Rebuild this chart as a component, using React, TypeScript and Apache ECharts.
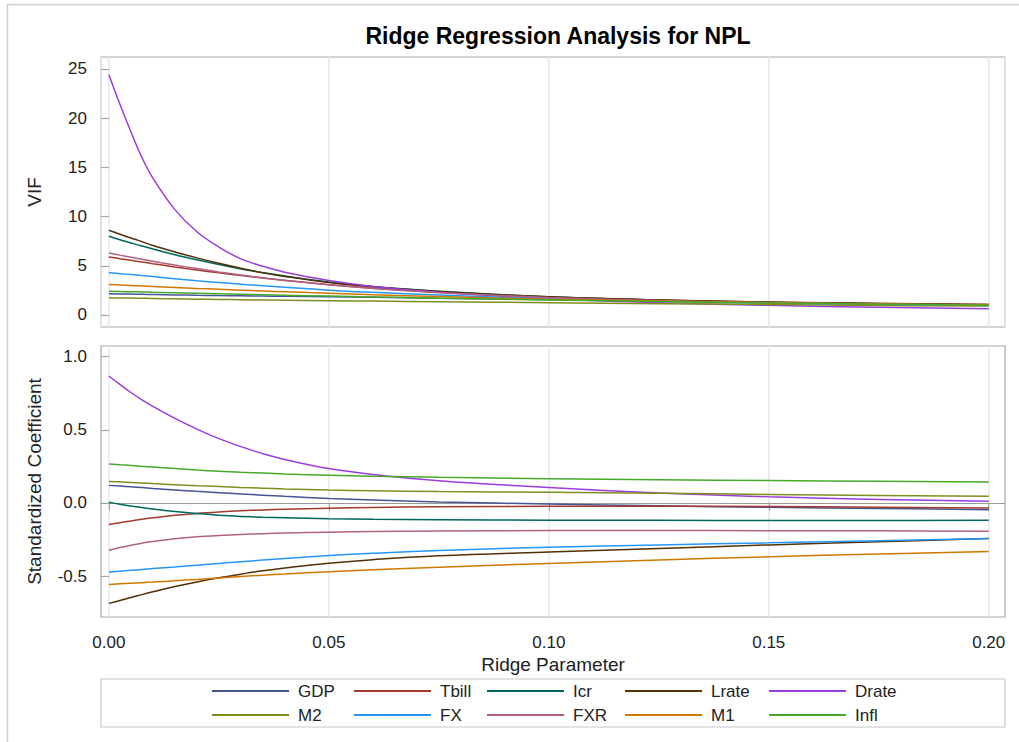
import React, { useEffect, useRef } from "react";
import * as echarts from "echarts";

const ridgeK = [0, 0.0025, 0.005, 0.0075, 0.01, 0.015, 0.02, 0.025, 0.03, 0.035, 0.04, 0.05, 0.06, 0.075, 0.1, 0.125, 0.15, 0.175, 0.2];

const variables = ["GDP", "Tbill", "Icr", "Lrate", "Drate", "M2", "FX", "FXR", "M1", "Infl"];
const colors = ["#445694", "#A23A2E", "#01665E", "#543005", "#9D3CDB", "#7F8E1F", "#2597FA", "#B26084", "#D17800", "#47A82A"];

// VIF values
const vifGDP = [2.15, 2.13, 2.12, 2.1, 2.08, 2.04, 2.0, 1.97, 1.95, 1.92, 1.9, 1.85, 1.8, 1.71, 1.56, 1.41, 1.26, 1.13, 1.01];
const vifTbill = [5.9, 5.72, 5.55, 5.38, 5.21, 4.88, 4.57, 4.28, 4.01, 3.75, 3.51, 3.08, 2.72, 2.3, 1.82, 1.52, 1.32, 1.18, 1.08];
const vifIcr = [8.0, 7.65, 7.32, 7.0, 6.7, 6.12, 5.6, 5.12, 4.68, 4.3, 3.95, 3.35, 2.9, 2.42, 1.85, 1.5, 1.28, 1.13, 1.02];
const vifLrate = [8.6, 8.2, 7.82, 7.45, 7.05, 6.4, 5.8, 5.25, 4.75, 4.3, 3.92, 3.3, 2.86, 2.38, 1.85, 1.52, 1.3, 1.15, 1.05];
const vifDrate = [24.4, 21.4, 18.6, 16.0, 13.9, 10.7, 8.45, 6.9, 5.7, 4.95, 4.35, 3.5, 2.9, 2.3, 1.65, 1.25, 0.98, 0.78, 0.63];
const vifM2 = [1.75, 1.73, 1.72, 1.7, 1.68, 1.64, 1.61, 1.58, 1.55, 1.52, 1.5, 1.45, 1.41, 1.35, 1.25, 1.15, 1.06, 0.97, 0.9];
const vifFX = [4.3, 4.2, 4.1, 4.0, 3.9, 3.68, 3.48, 3.3, 3.13, 2.97, 2.82, 2.52, 2.3, 2.02, 1.65, 1.4, 1.22, 1.08, 0.97];
const vifFXR = [6.3, 6.08, 5.87, 5.66, 5.46, 5.07, 4.71, 4.37, 4.06, 3.78, 3.52, 3.06, 2.7, 2.27, 1.78, 1.46, 1.25, 1.1, 1.0];
const vifM1 = [3.1, 3.05, 3.0, 2.95, 2.9, 2.8, 2.7, 2.61, 2.52, 2.43, 2.35, 2.2, 2.06, 1.87, 1.61, 1.41, 1.25, 1.12, 1.02];
const vifInfl = [2.4, 2.38, 2.36, 2.34, 2.31, 2.26, 2.21, 2.16, 2.11, 2.06, 2.01, 1.92, 1.83, 1.71, 1.52, 1.36, 1.22, 1.1, 1.0];

// Standardized coefficients
const coefGDP = [0.12, 0.115, 0.11, 0.105, 0.099, 0.089, 0.079, 0.07, 0.061, 0.053, 0.045, 0.031, 0.02, 0.007, -0.008, -0.02, -0.03, -0.038, -0.046];
const coefTbill = [-0.148, -0.135, -0.123, -0.112, -0.102, -0.085, -0.072, -0.062, -0.054, -0.048, -0.043, -0.036, -0.031, -0.027, -0.023, -0.023, -0.025, -0.029, -0.034];
const coefIcr = [0.004, -0.009, -0.021, -0.032, -0.042, -0.059, -0.073, -0.084, -0.092, -0.098, -0.102, -0.108, -0.112, -0.115, -0.118, -0.119, -0.12, -0.12, -0.119];
const coefLrate = [-0.687, -0.667, -0.647, -0.627, -0.608, -0.572, -0.54, -0.512, -0.487, -0.464, -0.445, -0.412, -0.388, -0.362, -0.335, -0.311, -0.287, -0.265, -0.243];
const coefDrate = [0.868, 0.81, 0.755, 0.705, 0.66, 0.578, 0.505, 0.44, 0.385, 0.337, 0.297, 0.235, 0.195, 0.152, 0.105, 0.068, 0.042, 0.024, 0.011];
const coefM2 = [0.147, 0.144, 0.14, 0.136, 0.132, 0.125, 0.118, 0.112, 0.106, 0.101, 0.096, 0.088, 0.083, 0.078, 0.073, 0.066, 0.058, 0.051, 0.045];
const coefFX = [-0.473, -0.467, -0.461, -0.455, -0.449, -0.438, -0.426, -0.414, -0.402, -0.391, -0.38, -0.36, -0.344, -0.325, -0.303, -0.287, -0.273, -0.258, -0.243];
const coefFXR = [-0.323, -0.305, -0.289, -0.275, -0.263, -0.245, -0.232, -0.223, -0.216, -0.21, -0.206, -0.2, -0.196, -0.192, -0.189, -0.189, -0.19, -0.191, -0.193];
const coefM1 = [-0.557, -0.553, -0.549, -0.545, -0.541, -0.532, -0.523, -0.513, -0.503, -0.494, -0.486, -0.47, -0.457, -0.44, -0.414, -0.39, -0.368, -0.349, -0.332];
const coefInfl = [0.266, 0.261, 0.256, 0.25, 0.245, 0.235, 0.225, 0.217, 0.21, 0.204, 0.198, 0.189, 0.182, 0.175, 0.166, 0.159, 0.153, 0.148, 0.143];

const vifSeries = [vifGDP, vifTbill, vifIcr, vifLrate, vifDrate, vifM2, vifFX, vifFXR, vifM1, vifInfl];
const coefSeries = [coefGDP, coefTbill, coefIcr, coefLrate, coefDrate, coefM2, coefFX, coefFXR, coefM1, coefInfl];

const xTicks = [0, 0.05, 0.1, 0.15, 0.2];
const vifTicks = [0, 5, 10, 15, 20, 25];
const coefTicks = [-0.5, 0, 0.5, 1.0];

const FONT = "'Liberation Sans', Arial, sans-serif";
const legendCols = [212, 354, 487, 625, 769];
const legendRows = [682, 706];

export default function App() {
  const ref = useRef<HTMLDivElement>(null);

  useEffect(() => {
    if (!ref.current) return;
    const chart = echarts.init(ref.current, undefined, { renderer: "svg" });

    const pair = (vals: number[]) => ridgeK.map((k, i) => [k, vals[i]]);

    const series: any[] = [];
    variables.forEach((name, i) => {
      series.push({
        type: "line",
        name,
        xAxisIndex: 0,
        yAxisIndex: 0,
        data: pair(vifSeries[i]),
        symbol: "none",
        smooth: 0.4,
        lineStyle: { width: 1.5, color: colors[i] },
        itemStyle: { color: colors[i] },
        z: 3,
      });
    });
    variables.forEach((name, i) => {
      const s: any = {
        type: "line",
        name,
        xAxisIndex: 1,
        yAxisIndex: 1,
        data: pair(coefSeries[i]),
        symbol: "none",
        smooth: 0.4,
        lineStyle: { width: 1.5, color: colors[i] },
        itemStyle: { color: colors[i] },
        z: 3,
      };
      if (i === 0) {
        s.markLine = {
          silent: true,
          symbol: "none",
          label: { show: false },
          lineStyle: { color: "#9a9a9a", type: "solid", width: 1.2 },
          data: [{ yAxis: 0 }],
          z: 2,
        };
      }
      series.push(s);
    });

    const legends = variables.map((name, i) => ({
      show: true,
      data: [name],
      left: legendCols[i % 5],
      top: legendRows[Math.floor(i / 5)],
      padding: 0,
      icon: "rect",
      itemWidth: 77,
      itemHeight: 2,
      selectedMode: false,
      textStyle: {
        fontFamily: FONT,
        fontSize: 17,
        color: "#222",
        lineHeight: 18,
        padding: [0, 0, 0, 4],
      },
    }));

    const xBase = {
      type: "value",
      min: -0.0018,
      max: 0.2037,
      axisLine: { show: false },
      splitLine: { show: true, lineStyle: { color: "#e8e8e8", width: 1.5 } },
    };

    chart.setOption({
      animation: false,
      backgroundColor: "#ffffff",
      title: {
        text: "Ridge Regression Analysis for NPL",
        left: 553,
        top: 19,
        textAlign: "center",
        textStyle: { fontFamily: FONT, fontSize: 23, fontWeight: "bold", color: "#000" },
      },
      legend: legends,
      grid: [
        { left: 101, top: 57, width: 904, height: 270, show: true, borderColor: "#a4a8ac", borderWidth: 1.2, backgroundColor: "transparent" },
        { left: 101, top: 346, width: 904, height: 271, show: true, borderColor: "#a4a8ac", borderWidth: 1.2, backgroundColor: "transparent" },
      ],
      xAxis: [
        {
          ...xBase,
          gridIndex: 0,
          axisLabel: { show: false },
          axisTick: { show: false },
        },
        {
          ...xBase,
          gridIndex: 1,
          name: "Ridge Parameter",
          nameLocation: "middle",
          nameGap: 38,
          nameTextStyle: { fontFamily: FONT, fontSize: 19, color: "#222" },
          axisTick: { show: true, length: 8, customValues: xTicks, lineStyle: { color: "#a4a8ac", width: 1.2 } },
          axisLabel: {
            show: true,
            customValues: xTicks,
            margin: 17,
            fontFamily: FONT,
            fontSize: 17,
            color: "#222",
            formatter: (v: number) => v.toFixed(2),
          },
        },
      ],
      yAxis: [
        {
          type: "value",
          gridIndex: 0,
          min: -1.22,
          max: 26.2,
          name: "VIF",
          nameLocation: "middle",
          nameGap: 57,
          nameTextStyle: { fontFamily: FONT, fontSize: 19, color: "#222" },
          axisLine: { show: false },
          splitLine: { show: false },
          axisTick: { show: true, length: 8, customValues: vifTicks, lineStyle: { color: "#a4a8ac", width: 1.2 } },
          axisLabel: { customValues: vifTicks, margin: 14, fontFamily: FONT, fontSize: 17, color: "#222" },
        },
        {
          type: "value",
          gridIndex: 1,
          min: -0.78,
          max: 1.073,
          name: "Standardized Coefficient",
          nameLocation: "middle",
          nameGap: 57,
          nameTextStyle: { fontFamily: FONT, fontSize: 19, color: "#222" },
          axisLine: { show: false },
          splitLine: { show: false },
          axisTick: { show: true, length: 8, customValues: coefTicks, lineStyle: { color: "#a4a8ac", width: 1.2 } },
          axisLabel: {
            customValues: coefTicks,
            margin: 14,
            fontFamily: FONT,
            fontSize: 17,
            color: "#222",
            formatter: (v: number) => v.toFixed(1),
          },
        },
      ],
      graphic: [
        {
          type: "rect",
          shape: { x: 7.5, y: 4.5, width: 1100, height: 800 },
          style: { fill: "none", stroke: "#d0d0d0", lineWidth: 1.5 },
          silent: true,
          z: -1,
        },
        {
          type: "rect",
          shape: { x: 101, y: 679, width: 904, height: 48 },
          style: { fill: "none", stroke: "#c8c8c8", lineWidth: 1.2 },
          silent: true,
          z: -1,
        },
      ],
      series,
    });

    return () => chart.dispose();
  }, []);

  return <div ref={ref} style={{ position: "fixed", left: 0, top: 0, width: 1019, height: 742 }} />;
}
